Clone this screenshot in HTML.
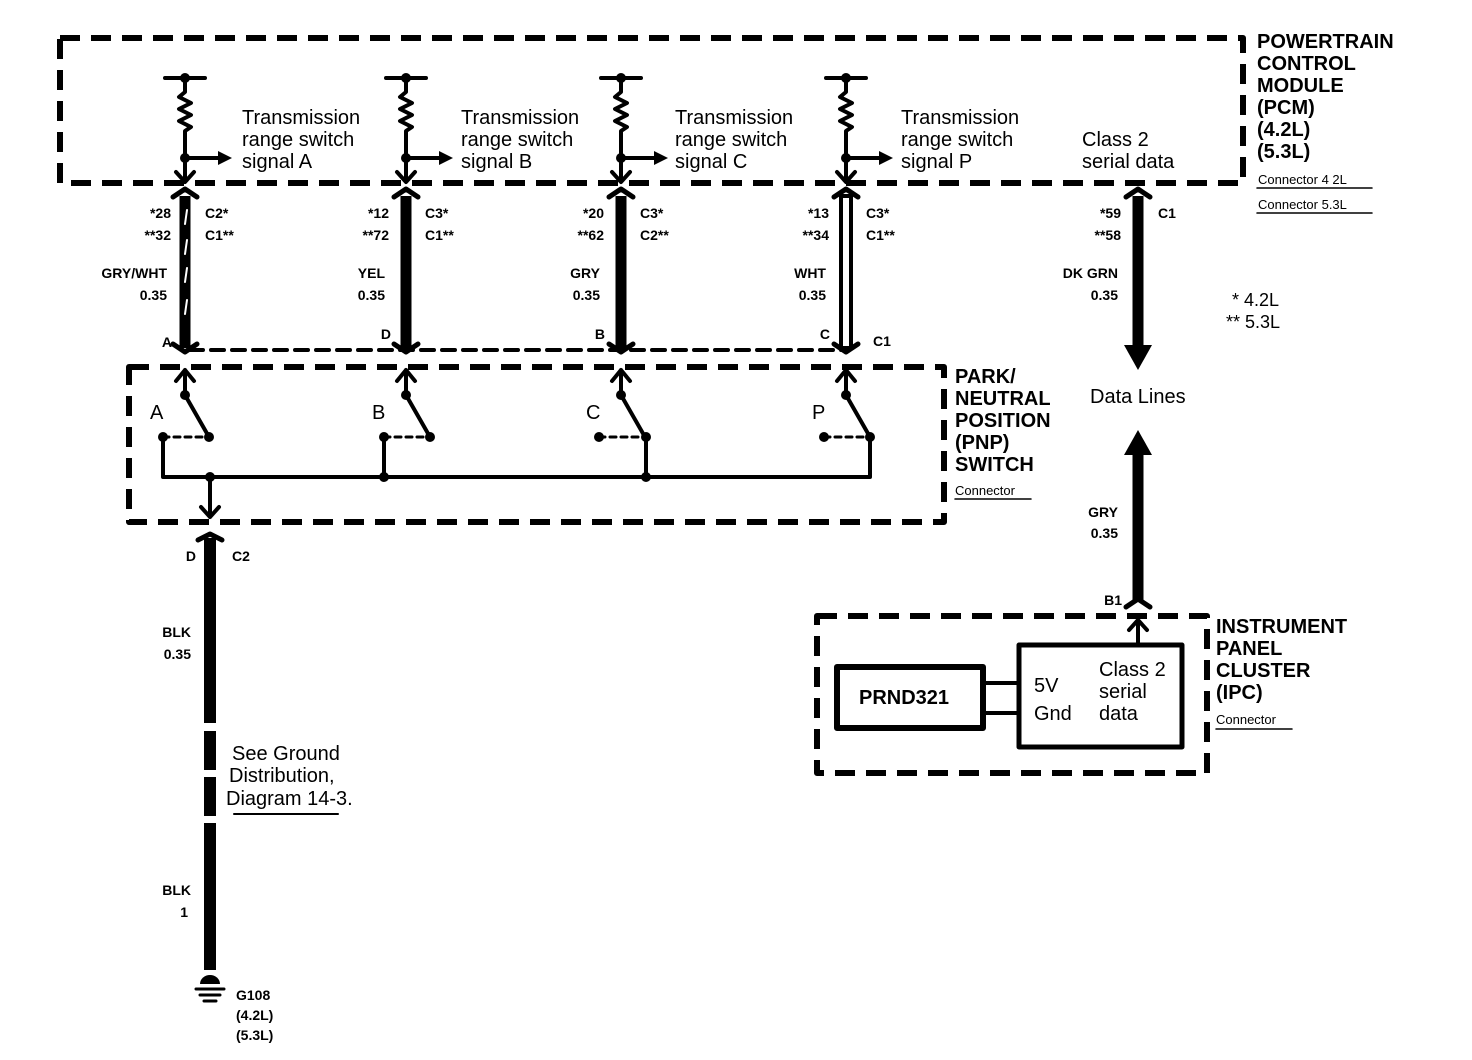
<!DOCTYPE html>
<html><head><meta charset="utf-8"><style>
body{margin:0;background:#fff}
svg{display:block}
text{font-family:"Liberation Sans",sans-serif;fill:#000}
.b{font-weight:bold;font-size:14px}
.n{font-size:20px}
.h{font-weight:bold;font-size:20px}
.s{font-size:13px}
</style></head><body>
<svg width="1472" height="1060" viewBox="0 0 1472 1060" xmlns="http://www.w3.org/2000/svg">
<g fill="none" stroke="#000" stroke-linecap="round" stroke-linejoin="round">
<rect x="60" y="38" width="1183" height="145" stroke-width="6" stroke-dasharray="20 11" stroke-linecap="butt"/>
<rect x="129" y="367" width="815" height="155" stroke-width="6" stroke-dasharray="20 11" stroke-linecap="butt"/>
<rect x="817" y="616" width="390" height="157" stroke-width="6" stroke-dasharray="20 11" stroke-linecap="butt"/>
<line x1="190" y1="350" x2="842" y2="350" stroke-width="4" stroke-dasharray="13 8"/>

<g stroke-width="4">
<path d="M165 78H205M185 78V92l-6 5 12 6-12 6 12 6-12 6 12 6-6 4V178M185 158H222M176 172l9 10 9-10"/>
<path d="M386 78H426M406 78V92l-6 5 12 6-12 6 12 6-12 6 12 6-6 4V178M406 158H443M397 172l9 10 9-10"/>
<path d="M601 78H641M621 78V92l-6 5 12 6-12 6 12 6-12 6 12 6-6 4V178M621 158H658M612 172l9 10 9-10"/>
<path d="M826 78H866M846 78V92l-6 5 12 6-12 6 12 6-12 6 12 6-6 4V178M846 158H883M837 172l9 10 9-10"/>
</g>
<g fill="#000" stroke="none">
<circle cx="185" cy="78" r="5"/><circle cx="185" cy="158" r="5"/><path d="M218 151l14 7-14 7z"/>
<circle cx="406" cy="78" r="5"/><circle cx="406" cy="158" r="5"/><path d="M439 151l14 7-14 7z"/>
<circle cx="621" cy="78" r="5"/><circle cx="621" cy="158" r="5"/><path d="M654 151l14 7-14 7z"/>
<circle cx="846" cy="78" r="5"/><circle cx="846" cy="158" r="5"/><path d="M879 151l14 7-14 7z"/>
</g>

<g stroke-width="11" stroke-linecap="butt">
<line x1="185" y1="196" x2="185" y2="348"/>
<line x1="406" y1="196" x2="406" y2="348"/>
<line x1="621" y1="196" x2="621" y2="348"/>
<line x1="1138" y1="196" x2="1138" y2="345"/>
<line x1="1138" y1="455" x2="1138" y2="602"/>
</g>
<rect x="841" y="196" width="10" height="152" stroke-width="4"/>
<path d="M187 210l-2 14M187 240l-2 14M187 268l-2 14M187 300l-2 14" stroke="#fff" stroke-width="2"/>
<g stroke-width="5">
<path d="M173 197l12 -8 12 8M394 197l12 -8 12 8M609 197l12 -8 12 8M834 197l12 -8 12 8M1126 197l12 -8 12 8"/>
<path d="M173 344l12 8 12-8M394 344l12 8 12-8M609 344l12 8 12-8M834 344l12 8 12-8"/>
<path d="M1126 607l12-8 12 8"/>
</g>
<path d="M1124 345H1152L1138 370Z" fill="#000" stroke="none"/>
<path d="M1124 455H1152L1138 430Z" fill="#000" stroke="none"/>

<g stroke-width="4">
<path d="M185 395V370M176 381l9-11 9 11M185 395L209 437"/>
<path d="M406 395V370M397 381l9-11 9 11M406 395L430 437"/>
<path d="M621 395V370M612 381l9-11 9 11M621 395L645 437"/>
<path d="M846 395V370M837 381l9-11 9 11M846 395L870 437"/>
<path d="M163 437H205M384 437H426M599 437H641M824 437H866" stroke-width="3" stroke-dasharray="6 5"/>
<path d="M163 437V477H870V437M384 437V477M646 437V477M210 477V517M201 507l9 10 9-10"/>
</g>
<g fill="#000" stroke="none">
<circle cx="185" cy="395" r="5"/><circle cx="209" cy="437" r="5"/><circle cx="163" cy="437" r="5"/>
<circle cx="406" cy="395" r="5"/><circle cx="430" cy="437" r="5"/><circle cx="384" cy="437" r="5"/>
<circle cx="621" cy="395" r="5"/><circle cx="646" cy="437" r="5"/><circle cx="599" cy="437" r="5"/>
<circle cx="846" cy="395" r="5"/><circle cx="870" cy="437" r="5"/><circle cx="824" cy="437" r="5"/>
<circle cx="210" cy="477" r="5"/><circle cx="384" cy="477" r="5"/><circle cx="646" cy="477" r="5"/>
</g>

<path d="M198 540l12-6 12 6" stroke-width="5"/>
<g stroke-width="12" stroke-linecap="butt">
<line x1="210" y1="538" x2="210" y2="723"/>
<line x1="210" y1="731" x2="210" y2="770"/>
<line x1="210" y1="777" x2="210" y2="816"/>
<line x1="210" y1="823" x2="210" y2="970"/>
</g>
<path d="M200 984a10 9 0 0 1 20 0z" fill="#000" stroke="none"/>
<path d="M196 989H224M200 995H220M204 1001H216" stroke-width="3"/>
<line x1="234" y1="814" x2="338" y2="814" stroke-width="2"/>

<rect x="837" y="667" width="146" height="61" stroke-width="6"/>
<rect x="1019" y="645" width="163" height="102" stroke-width="5"/>
<path d="M983 683H1019M983 713H1019" stroke-width="4"/>
<path d="M1138 645V620M1129 630l9-10 9 10" stroke-width="4"/>

<path d="M1257 188H1372M1257 213H1372M955 499H1031M1216 729H1292" stroke-width="1.5"/>
</g>

<g class="n">
<text x="242" y="124">Transmission</text><text x="242" y="146">range switch</text><text x="242" y="168">signal A</text>
<text x="461" y="124">Transmission</text><text x="461" y="146">range switch</text><text x="461" y="168">signal B</text>
<text x="675" y="124">Transmission</text><text x="675" y="146">range switch</text><text x="675" y="168">signal C</text>
<text x="901" y="124">Transmission</text><text x="901" y="146">range switch</text><text x="901" y="168">signal P</text>
<text x="1082" y="146">Class 2</text><text x="1082" y="168">serial data</text>
<text x="1090" y="403">Data Lines</text>
<text x="232" y="760">See Ground</text><text x="229" y="782">Distribution,</text><text x="226" y="805">Diagram 14-3.</text>
<text x="1034" y="692">5V</text><text x="1034" y="720">Gnd</text>
<text x="1099" y="676">Class 2</text><text x="1099" y="698">serial</text><text x="1099" y="720">data</text>
<text x="150" y="419">A</text><text x="372" y="419">B</text><text x="586" y="419">C</text><text x="812" y="419">P</text>
<text x="1232" y="306" font-size="18">*  4.2L</text><text x="1226" y="328" font-size="18">**  5.3L</text>
</g>
<text x="859" y="704" class="h" font-size="19">PRND321</text>
<g class="h">
<text x="1257" y="48">POWERTRAIN</text><text x="1257" y="70">CONTROL</text><text x="1257" y="92">MODULE</text><text x="1257" y="114">(PCM)</text><text x="1257" y="136">(4.2L)</text><text x="1257" y="158">(5.3L)</text>
<text x="955" y="383">PARK/</text><text x="955" y="405">NEUTRAL</text><text x="955" y="427">POSITION</text><text x="955" y="449">(PNP)</text><text x="955" y="471">SWITCH</text>
<text x="1216" y="633">INSTRUMENT</text><text x="1216" y="655">PANEL</text><text x="1216" y="677">CLUSTER</text><text x="1216" y="699">(IPC)</text>
</g>
<g class="s">
<text x="1258" y="184">Connector 4 2L</text><text x="1258" y="209">Connector 5.3L</text>
<text x="955" y="495">Connector</text><text x="1216" y="724">Connector</text>
</g>
<g class="b" text-anchor="end">
<text x="171" y="218">*28</text><text x="171" y="240">**32</text><text x="167" y="278">GRY/WHT</text><text x="167" y="300">0.35</text><text x="172" y="347">A</text>
<text x="389" y="218">*12</text><text x="389" y="240">**72</text><text x="385" y="278">YEL</text><text x="385" y="300">0.35</text><text x="391" y="339">D</text>
<text x="604" y="218">*20</text><text x="604" y="240">**62</text><text x="600" y="278">GRY</text><text x="600" y="300">0.35</text><text x="605" y="339">B</text>
<text x="829" y="218">*13</text><text x="829" y="240">**34</text><text x="826" y="278">WHT</text><text x="826" y="300">0.35</text><text x="830" y="339">C</text>
<text x="1121" y="218">*59</text><text x="1121" y="240">**58</text><text x="1118" y="278">DK GRN</text><text x="1118" y="300">0.35</text>
<text x="1118" y="517">GRY</text><text x="1118" y="538">0.35</text><text x="1122" y="605">B1</text>
<text x="196" y="561">D</text>
<text x="191" y="637">BLK</text><text x="191" y="659">0.35</text>
<text x="191" y="895">BLK</text><text x="188" y="917">1</text>
</g>
<g class="b">
<text x="205" y="218">C2*</text><text x="205" y="240">C1**</text>
<text x="425" y="218">C3*</text><text x="425" y="240">C1**</text>
<text x="640" y="218">C3*</text><text x="640" y="240">C2**</text>
<text x="866" y="218">C3*</text><text x="866" y="240">C1**</text>
<text x="873" y="346">C1</text><text x="1158" y="218">C1</text>
<text x="232" y="561">C2</text>
<text x="236" y="1000">G108</text><text x="236" y="1020">(4.2L)</text><text x="236" y="1040">(5.3L)</text>
</g>
</svg>
</body></html>
